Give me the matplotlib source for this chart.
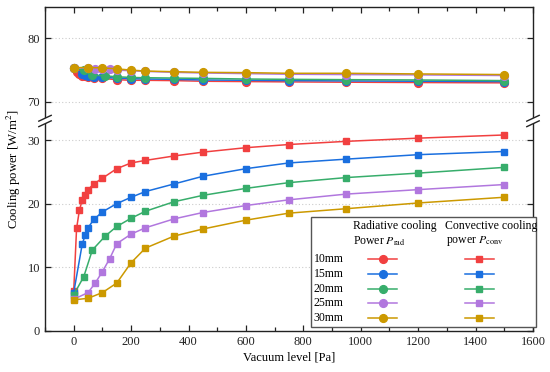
import matplotlib
matplotlib.use("Agg")
import matplotlib.pyplot as plt
from matplotlib.lines import Line2D
from matplotlib.patches import Rectangle, Polygon
from matplotlib.ticker import MultipleLocator

plt.rcParams['font.family'] = ['Liberation Serif', 'DejaVu Serif']
plt.rcParams['mathtext.fontset'] = 'stix'

# ---------------- data ----------------
labels = ["10mm", "15mm", "20mm", "25mm", "30mm"]
colors = ["#F14040", "#1A6FDF", "#37AD6B", "#B177DE", "#CC9900"]

x_10 = [0, 10, 20, 30, 40, 50, 70, 100, 150, 200, 250, 350, 450, 600, 750, 950, 1200, 1500]
conv_10 = [6.2, 16.1, 19.0, 20.6, 21.4, 22.2, 23.1, 24.0, 25.5, 26.4, 26.8, 27.5, 28.1, 28.8, 29.3, 29.8, 30.3, 30.8]
rad_10 = [75.3, 74.7, 74.4, 74.1, 74.0, 73.9, 73.8, 73.7, 73.5, 73.4, 73.4, 73.35, 73.25, 73.2, 73.15, 73.1, 73.05, 73.0]

x_15 = [0, 30, 40, 50, 70, 100, 150, 200, 250, 350, 450, 600, 750, 950, 1200, 1500]
conv_15 = [6.0, 13.7, 15.0, 16.2, 17.5, 18.7, 20.0, 21.0, 21.9, 23.1, 24.3, 25.5, 26.4, 27.0, 27.7, 28.2]
rad_15 = [75.3, 74.4, 74.2, 74.0, 73.9, 73.85, 73.75, 73.65, 73.6, 73.55, 73.45, 73.4, 73.35, 73.3, 73.25, 73.2]

x_20 = [0, 35, 65, 110, 150, 200, 250, 350, 450, 600, 750, 950, 1200, 1500]
conv_20 = [5.65, 8.5, 12.7, 14.9, 16.4, 17.7, 18.8, 20.3, 21.3, 22.4, 23.3, 24.1, 24.8, 25.7]
rad_20 = [75.3, 75.0, 74.2, 74.1, 73.95, 73.85, 73.8, 73.75, 73.7, 73.6, 73.55, 73.5, 73.45, 73.35]

x_25 = [0, 50, 75, 100, 125, 150, 200, 250, 350, 450, 600, 750, 950, 1200, 1500]
conv_25 = [4.95, 6.0, 7.5, 9.3, 11.3, 13.7, 15.2, 16.2, 17.6, 18.6, 19.7, 20.6, 21.5, 22.2, 23.0]
rad_25 = [75.4, 75.3, 75.25, 75.2, 75.1, 75.0, 74.9, 74.8, 74.65, 74.55, 74.45, 74.35, 74.3, 74.25, 74.15]

x_30 = [0, 50, 100, 150, 200, 250, 350, 450, 600, 750, 950, 1200, 1500]
conv_30 = [4.85, 5.1, 6.0, 7.5, 10.7, 13.0, 14.9, 16.0, 17.4, 18.5, 19.2, 20.1, 21.0]
rad_30 = [75.4, 75.4, 75.35, 75.2, 75.0, 74.85, 74.75, 74.65, 74.6, 74.5, 74.5, 74.4, 74.3]

xs = [x_10, x_15, x_20, x_25, x_30]
convs = [conv_10, conv_15, conv_20, conv_25, conv_30]
rads = [rad_10, rad_15, rad_20, rad_25, rad_30]

xticks = [0, 200, 400, 600, 800, 1000, 1200, 1400, 1600]
yticks_low = [0, 10, 20, 30]
yticks_high = [70, 80]

# ---------------- figure ----------------
W, H = 550, 372
fig = plt.figure(figsize=(W / 100, H / 100), dpi=100)

def fx(px):
    return px / W

def fy(py):
    return 1 - py / H

L, R = 45, 533
y_bot, y_brk, y_top = 330.7, 121.0, 6.5
ax_lo = fig.add_axes([fx(L), fy(y_bot), fx(R) - fx(L), fy(y_brk) - fy(y_bot)])
ax_hi = fig.add_axes([fx(L), fy(y_brk), fx(R) - fx(L), fy(y_top) - fy(y_brk)])

lw = 1.1
for x, c, r, col in zip(xs, convs, rads, colors):
    ax_lo.plot(x, c, color=col, lw=lw, marker='s', ms=4.6, mec=col, mfc=col, zorder=3)
    ax_hi.plot(x, r, color=col, lw=lw, marker='o', ms=5.6, mec=col, mfc=col, zorder=3)

for ax in (ax_lo, ax_hi):
    ax.set_xlim(-100, 1600)
    ax.xaxis.set_minor_locator(MultipleLocator(100))
    ax.set_xticks(xticks)
    ax.tick_params(axis='both', which='both', direction='in', labelsize=9,
                   width=0.9, colors='#222222')
    ax.tick_params(axis='both', which='major', length=4.5)
    ax.tick_params(axis='both', which='minor', length=3)
    ax.yaxis.grid(True, linestyle=(0, (1, 2)), color='#cccccc', lw=0.8)
    ax.set_axisbelow(True)
    for s in ax.spines.values():
        s.set_linewidth(1.0)
        s.set_color('#222222')

ax_lo.set_ylim(0, 33)
ax_lo.set_yticks(yticks_low)
ax_lo.spines['top'].set_visible(False)
ax_lo.tick_params(axis='x', which='both', top=False, bottom=True)
ax_lo.tick_params(axis='y', which='both', left=True, right=True)
ax_lo.set_xlabel("Vacuum level [Pa]", fontsize=9, labelpad=3)

ax_hi.set_ylim(67, 85)
ax_hi.set_yticks(yticks_high)
ax_hi.spines['bottom'].set_visible(False)
ax_hi.tick_params(axis='x', which='both', top=True, bottom=False, labelbottom=False)
ax_hi.tick_params(axis='y', which='both', left=True, right=True)

fig.text(fx(14), fy(169), "Cooling power [W/m$^2$]", rotation=90,
         ha='center', va='center', fontsize=9.2)

# ---------------- axis break marks ----------------
for cx in (L, R):
    dx, dy, gap = 6.2, 2.9, 5.5
    poly = Polygon([(fx(cx - dx), fy(y_brk + dy + gap / 2)), (fx(cx + dx), fy(y_brk - dy + gap / 2)),
                    (fx(cx + dx), fy(y_brk - dy - gap / 2)), (fx(cx - dx), fy(y_brk + dy - gap / 2))],
                   closed=True, transform=fig.transFigure, facecolor='white', edgecolor='none', zorder=10)
    fig.add_artist(poly)
    for off in (gap / 2, -gap / 2):
        fig.add_artist(Line2D([fx(cx - dx), fx(cx + dx)],
                              [fy(y_brk + dy + off), fy(y_brk - dy + off)],
                              transform=fig.transFigure, color='#222222', lw=1.0, zorder=11))

# ---------------- legend (manual) ----------------
bx0, bx1, by0, by1 = 311, 536, 217, 327
fig.add_artist(Rectangle((fx(bx0), fy(by1)), fx(bx1) - fx(bx0), fy(by0) - fy(by1),
                         transform=fig.transFigure, facecolor='white',
                         edgecolor='#555555', lw=1.0, zorder=20))
fs = 8.5
fig.text(fx(353), fy(226), "Radiative cooling", fontsize=fs, va='center', ha='left', zorder=21)
fig.text(fx(353), fy(241), r"Power $\mathit{P}_{\mathrm{rad}}$", fontsize=fs, va='center', ha='left', zorder=21)
fig.text(fx(445), fy(226), "Convective cooling", fontsize=fs, va='center', ha='left', zorder=21)
fig.text(fx(446), fy(241), r"power $\mathit{P}_{\mathrm{conv}}$", fontsize=fs, va='center', ha='left', zorder=21)
row_y = [259.3, 274.0, 288.7, 303.3, 318.0]
for lab, col, ry in zip(labels, colors, row_y):
    fig.text(fx(313.5), fy(ry), lab, fontsize=fs, va='center', ha='left', zorder=21)
    fig.add_artist(Line2D([fx(368), fx(397)], [fy(ry), fy(ry)], transform=fig.transFigure,
                          color=col, lw=lw, zorder=21))
    fig.add_artist(Line2D([fx(382.5)], [fy(ry)], transform=fig.transFigure, color=col,
                          marker='o', ms=5.6, mec=col, mfc=col, zorder=22))
    fig.add_artist(Line2D([fx(465), fx(493.5)], [fy(ry), fy(ry)], transform=fig.transFigure,
                          color=col, lw=lw, zorder=21))
    fig.add_artist(Line2D([fx(479.3)], [fy(ry)], transform=fig.transFigure, color=col,
                          marker='s', ms=4.6, mec=col, mfc=col, zorder=22))

fig.savefig("out.png", dpi=100)
